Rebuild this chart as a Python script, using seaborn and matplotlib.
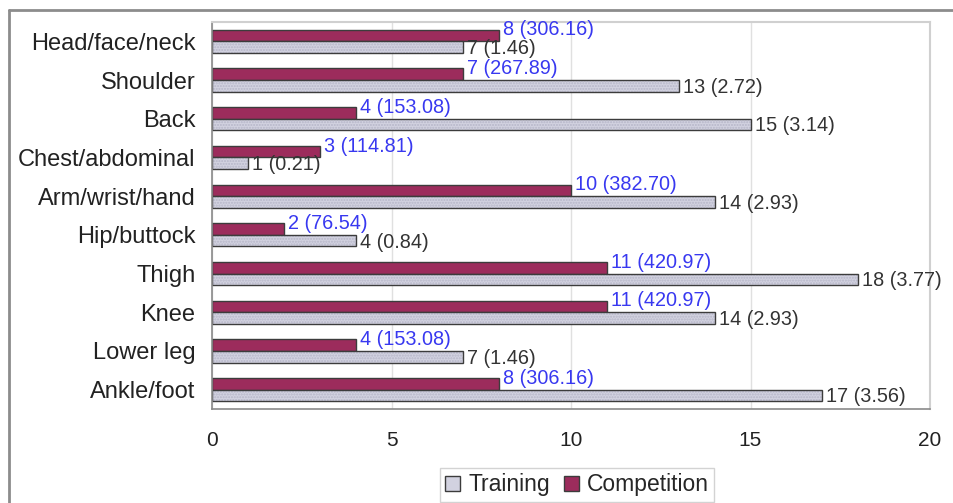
import matplotlib
matplotlib.use("Agg")
import matplotlib.pyplot as plt
from matplotlib.patches import Rectangle
from matplotlib.lines import Line2D
import seaborn as sns
import pandas as pd

regions = ["Head/face/neck", "Shoulder", "Back", "Chest/abdominal", "Arm/wrist/hand",
           "Hip/buttock", "Thigh", "Knee", "Lower leg", "Ankle/foot"]
competition = [8, 7, 4, 3, 10, 2, 11, 11, 4, 8]
competition_rate = [306.16, 267.89, 153.08, 114.81, 382.70, 76.54, 420.97, 420.97, 153.08, 306.16]
training = [7, 13, 15, 1, 14, 4, 18, 14, 7, 17]
training_rate = [1.46, 2.72, 3.14, 0.21, 2.93, 0.84, 3.77, 2.93, 1.46, 3.56]
x_ticks = [0, 5, 10, 15, 20]

COMP_COLOR = "#9c2c5c"
TRAIN_COLOR = "#d2d2e0"
EDGE = "#3c3c3c"

df = pd.DataFrame({
    "region": regions * 2,
    "count": competition + training,
    "setting": ["Competition"] * len(regions) + ["Training"] * len(regions),
})

sns.set_style("white")
plt.rcParams["font.family"] = ["Liberation Sans", "DejaVu Sans"]

fig = plt.figure(figsize=(9.54, 5.03), dpi=100)
ax = fig.add_axes([212 / 954, 1 - 409 / 503, (930 - 212) / 954, (409 - 22) / 503])

sns.barplot(data=df, y="region", x="count", hue="setting",
            hue_order=["Competition", "Training"], order=regions,
            palette={"Competition": COMP_COLOR, "Training": TRAIN_COLOR},
            orient="h", width=0.6, dodge=True, ax=ax, legend=False,
            edgecolor=EDGE, linewidth=1.0, saturation=1)

# dotted fill on the training bars, with a dark outline drawn on top
comp_bars = ax.containers[0]
train_bars = ax.containers[1]
for p in train_bars:
    p.set_hatch("......")
    p.set_edgecolor("#b6b6c8")
    p.set_linewidth(0)
    ax.add_patch(Rectangle(p.get_xy(), p.get_width(), p.get_height(),
                           fill=False, edgecolor=EDGE, linewidth=1.0, zorder=p.get_zorder() + 0.1))

for p, v, r in zip(comp_bars, competition, competition_rate):
    yc = p.get_y() + p.get_height() / 2
    ax.annotate(f"{v} ({r:.2f})", xy=(v, yc), xytext=(3, 4), textcoords="offset points",
                ha="left", va="center", fontsize=14.3, color="#3838f0")
for p, v, r in zip(train_bars, training, training_rate):
    yc = p.get_y() + p.get_height() / 2
    ax.annotate(f"{v} ({r:.2f})", xy=(v, yc), xytext=(3, -1), textcoords="offset points",
                ha="left", va="center", fontsize=14.3, color="#333333")

ax.set_xlim(0, 20)
ax.set_ylim(len(regions) - 0.5, -0.5)
ax.set_xticks(x_ticks)
ax.set_xticklabels([str(t) for t in x_ticks], fontsize=15, color="#222222")
ax.tick_params(axis="x", length=0, pad=16)
ax.set_yticks(range(len(regions)))
ax.set_yticklabels(regions, fontsize=17, color="#222222")
ax.tick_params(axis="y", which="major", length=0, pad=12)
ax.set_yticks([i - 0.5 for i in range(len(regions) + 1)], minor=True)
ax.tick_params(axis="y", which="minor", length=5, width=1, color="#888888", direction="out")
ax.set_xlabel("")
ax.set_ylabel("")

ax.xaxis.grid(True, color="#e0e0e0", linewidth=1)
ax.set_axisbelow(True)
for side in ["top", "right"]:
    ax.spines[side].set_color("#d0d0d0")
    ax.spines[side].set_linewidth(1.5)
for side in ["left", "bottom"]:
    ax.spines[side].set_color("#8a8a8a")
    ax.spines[side].set_linewidth(1.2)

handles = [Rectangle((0, 0), 1, 1, facecolor=TRAIN_COLOR, edgecolor=EDGE, linewidth=1),
           Rectangle((0, 0), 1, 1, facecolor=COMP_COLOR, edgecolor=EDGE, linewidth=1)]
fig.legend(handles, ["Training", "Competition"], loc="center", bbox_to_anchor=(577 / 954, 1 - 485 / 503),
           ncol=2, frameon=True, fancybox=False, edgecolor="#c8c8c8", fontsize=16.5,
           handlelength=0.65, handleheight=0.65, handletextpad=0.35, columnspacing=0.6,
           borderpad=0.25)

# outer chart border
fig.add_artist(Line2D([9 / 954, 9 / 954], [0, 1 - 10 / 503], transform=fig.transFigure,
                      color="#8c8c8c", linewidth=2))
fig.add_artist(Line2D([9 / 954, 1], [1 - 10 / 503, 1 - 10 / 503], transform=fig.transFigure,
                      color="#8c8c8c", linewidth=2))

fig.savefig("out.png", dpi=100, facecolor="white")
